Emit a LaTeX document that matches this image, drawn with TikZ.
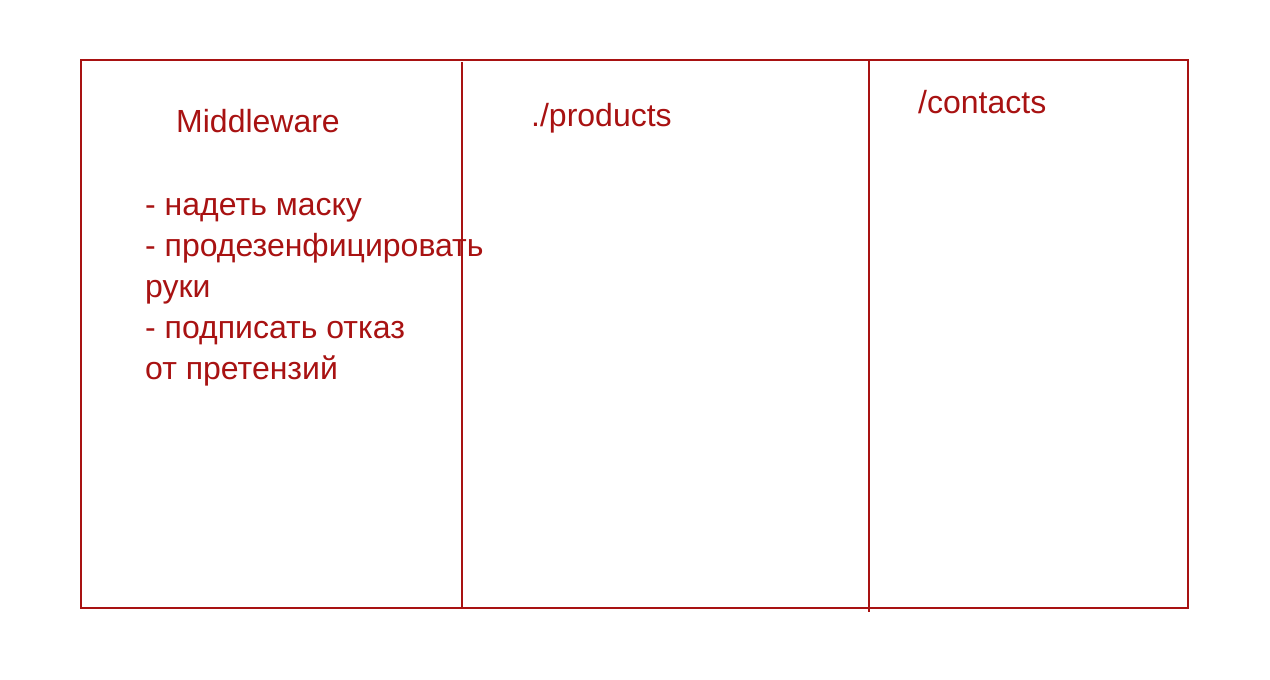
\documentclass[tikz,border=0pt]{standalone}
\usepackage{fontspec}
\setmainfont{Liberation Sans}
\definecolor{dred}{RGB}{168,18,18}
\begin{document}
\begin{tikzpicture}[x=1pt,y=-1pt,
  frame/.style={draw=dred,line width=2pt},
  lbl/.style={text=dred,anchor=base west,inner sep=0pt,font=\fontsize{32}{41}\selectfont},
  lst/.style={lbl,anchor=north west,align=left}]
\useasboundingbox (0,0) rectangle (1270,680);
\coordinate (tl) at (81,60);
\coordinate (br) at (1188,608);
\draw[frame] (tl) rectangle (br);
\coordinate (a1) at (462,62);
\coordinate (a2) at (462,608);
\coordinate (b1) at (869,60);
\coordinate (b2) at (869,612);
\draw[frame] (a1) -- (a2);
\draw[frame] (b1) -- (b2);
\node[lbl] (mw) at (176,132) {Middleware};
\node[lbl] (pr) at (531,126) {./products};
\node[lbl] (ct) at (918,113) {/contacts};
\node[lbl,align=left] (ls) at (145,215) {- надеть маску};
\node[lbl] (l2) at (145,256) {- продезенфицировать};
\node[lbl] (l3) at (145,297) {руки};
\node[lbl] (l4) at (145,338) {- подписать отказ};
\node[lbl] (l5) at (145,379) {от претензий};
\end{tikzpicture}
\end{document}
